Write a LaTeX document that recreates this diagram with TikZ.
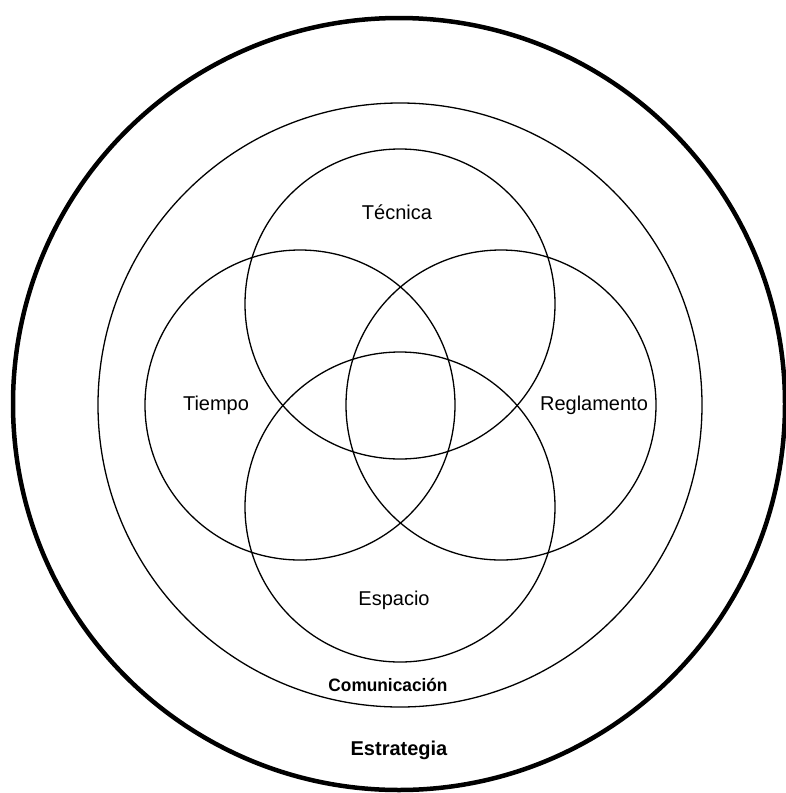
\documentclass[tikz,border=0pt]{standalone}
\usepackage{fontspec}
\setmainfont{Liberation Sans}
\begin{document}
\begin{tikzpicture}[x=1pt,y=-1pt,
  ring/.style={draw=black, circle, inner sep=0pt, line width=1.3pt},
  outerring/.style={draw=black, circle, inner sep=0pt, line width=4.5pt},
  lbl/.style={font=\fontsize{20}{24}\selectfont, inner sep=0pt, anchor=center},
  blbl/.style={font=\fontsize{20}{24}\selectfont\bfseries, inner sep=0pt, anchor=center}]
\useasboundingbox[fill=white] (0,0) rectangle (785,793);
\node[outerring, minimum size=772pt] (estr) at (399,404) {};
\node[ring, minimum size=604pt] (comu) at (400,405) {};
\node[ring, minimum size=310pt] (tec) at (400,304) {};
\node[ring, minimum size=310pt] (tie) at (300,405) {};
\node[ring, minimum size=310pt] (reg) at (501,405) {};
\node[ring, minimum size=310pt] (esp) at (400,507) {};
\node[lbl] (ltec) at (397,212) {Técnica};
\node[lbl] (ltie) at (216,405) {Tiempo};
\node[lbl] (lreg) at (594,405) {Reglamento};
\node[lbl] (lesp) at (394,600) {Espacio};
\node[blbl, font=\fontsize{18}{22}\selectfont\bfseries, xscale=0.96] (lcom) at (388,685) {Comunicación};
\node[blbl] (lest) at (399,750) {Estrategia};
\end{tikzpicture}
\end{document}
